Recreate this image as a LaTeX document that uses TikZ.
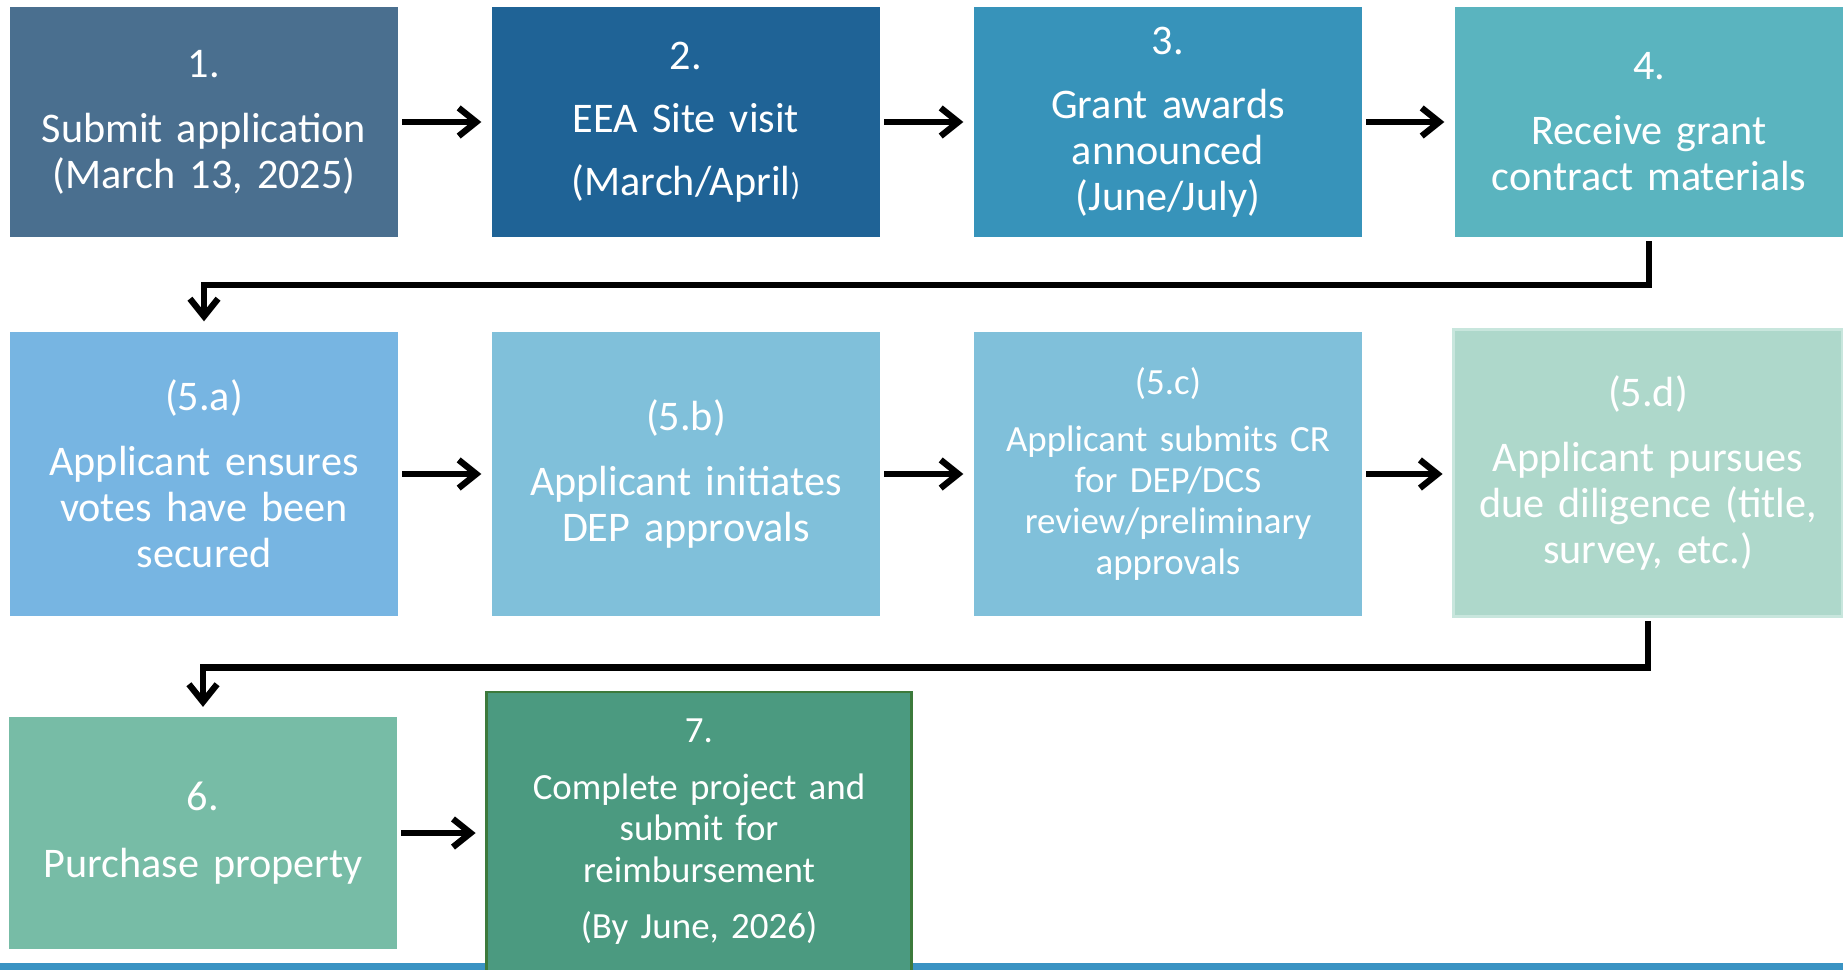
\documentclass[tikz,border=0pt]{standalone}
\usepackage{fontspec}
\setmainfont{Carlito}
\usetikzlibrary{arrows.meta}
\definecolor{boxone}{HTML}{4A6F8F}
\definecolor{boxtwo}{HTML}{1F6396}
\definecolor{boxthree}{HTML}{3793BA}
\definecolor{boxfour}{HTML}{5AB4BF}
\definecolor{boxfivea}{HTML}{77B5E2}
\definecolor{boxfiveb}{HTML}{80C0DA}
\definecolor{boxfived}{HTML}{AED8CB}
\definecolor{rimfived}{HTML}{C8E6DD}
\definecolor{boxsix}{HTML}{77BCA6}
\definecolor{boxseven}{HTML}{4B9A80}
\definecolor{rimseven}{HTML}{3C7A3C}
\definecolor{barblue}{HTML}{3A93C3}
\begin{document}
\begin{tikzpicture}[x=0.01cm, y=-0.01cm,
    stepbox/.style={fill=#1, text=white, inner sep=0pt, minimum width=3.88cm, minimum height=2.30cm,
        text width=3.7cm, align=center, font=\fontsize{12}{13.1}\selectfont},
    smalltext/.style={font=\fontsize{10.5}{11.7}\selectfont},
    flow/.style={line width=1.8pt, -{Straight Barb[length=5pt,width=8pt]}, shorten <=1pt, shorten >=2.8pt}]
    \clip (0,0) rectangle (1843,970);
    \fill[barblue] (0,963) rectangle (1843,970);
    \node[stepbox=boxone] (s1) at (204,122) {1.\\[5.4pt] Submit application\\(March 13, 2025)};
    \node[stepbox=boxtwo] (s2) at (686,122) {2.\\[4.8pt] EEA Site visit\\[4.8pt] (March/April{\fontsize{9}{9}\selectfont)}};
    \node[stepbox=boxthree] (s3) at (1168,122) {3.\\[5pt] Grant awards\\announced\\(June/July)};
    \node[stepbox=boxfour] (s4) at (1649,122) {4.\\[5.4pt] Receive grant\\contract materials};
    \node[stepbox=boxfivea, minimum height=2.84cm] (s5a) at (204,474) {(5.a)\\[5.4pt] Applicant ensures\\votes have been\\secured};
    \node[stepbox=boxfiveb, minimum height=2.84cm] (s5b) at (686,474) {(5.b)\\[5.4pt] Applicant initiates\\DEP approvals};
    \node[stepbox=boxfiveb, minimum height=2.84cm, smalltext] (s5c) at (1168,474) {(5.c)\\[4.5pt] Applicant submits CR\\for DEP/DCS\\review/preliminary\\approvals};
    \node[stepbox=boxfived, draw=rimfived, line width=0.85pt, minimum width=3.88cm, minimum height=2.86cm] (s5d) at (1648,473) {(5.d)\\[5.4pt] Applicant pursues\\due diligence (title,\\survey, etc.)};
    \node[stepbox=boxsix, minimum height=2.31cm] (s6) at (203,833) {6.\\[6pt] Purchase property};
    \node[stepbox=boxseven, draw=rimseven, line width=0.8pt, minimum width=4.24cm, minimum height=2.80cm, smalltext] (s7) at (699,832) {7.\\[4.5pt] Complete project and\\submit for\\reimbursement\\[4.5pt] (By June, 2026)};
    \draw[flow] (s1) -- (s2);
    \draw[flow] (s2) -- (s3);
    \draw[flow] (s3) -- (s4);
    \draw[flow] (s4.south) -- ++(0,47) -| (s5a.north);
    \draw[flow] (s5a) -- (s5b);
    \draw[flow] (s5b) -- (s5c);
    \draw[flow] (s5c.east) -- (s5c.east -| s5d.west);
    \draw[flow] (s5d.south) -- ++(0,50) -| (s6.north);
    \draw[flow] (s6.east) -- (s6.east -| s7.west);
\end{tikzpicture}
\end{document}
